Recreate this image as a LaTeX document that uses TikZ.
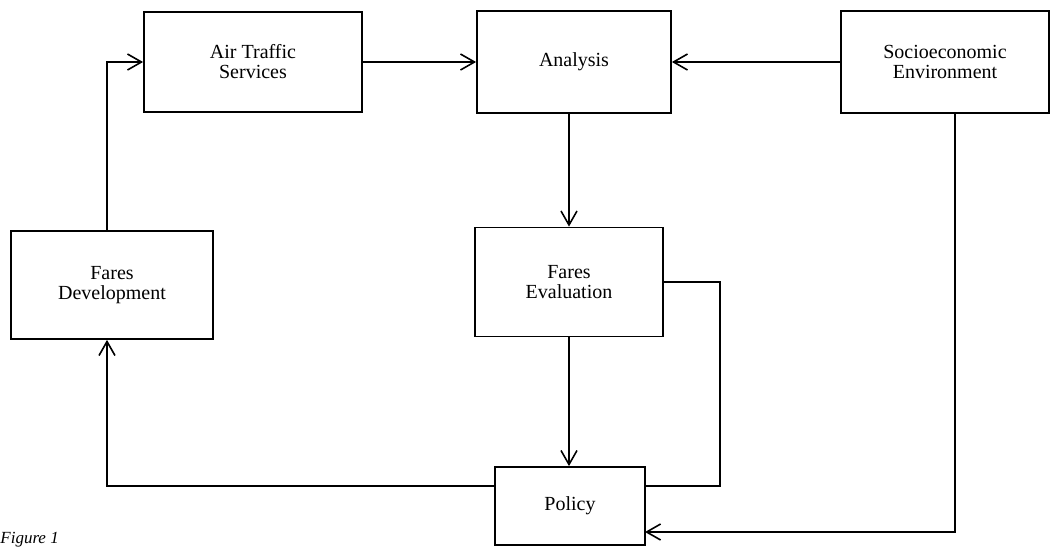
\documentclass[tikz,border=0pt]{standalone}
\usepackage{fontspec}
\setmainfont{Liberation Serif}
\usepackage{tikz}
\usetikzlibrary{arrows.meta}
\usetikzlibrary{positioning}
\usetikzlibrary{calc}

\begin{document}
\begin{tikzpicture}[x=0.5pt,y=-0.5pt,
    box/.style={draw,line width=0.9pt,align=center,inner sep=2pt,
                font=\fontsize{10}{10}\selectfont},
    arr/.style={-{Straight Barb[length=7pt,width=8pt,line width=0.8pt]},line width=0.9pt}]
    \useasboundingbox (0,0) rectangle (1057,547);

    % upper row
    \node[box,minimum width=109pt,minimum height=50pt] (ats)      at (253,62) {Air Traffic\\Services};
    \node[box,minimum width=97pt,minimum height=51pt]  (analysis) at (574,62) {Analysis};
    \node[box,minimum width=104pt,minimum height=51pt] (socio)    at (945,62) {Socioeconomic\\Environment};

    % middle row
    \node[box,minimum width=101pt,minimum height=54pt]  (fdev)  at (112,285) {Fares\\Development};
    \node[box,minimum width=94pt,minimum height=54.5pt] (feval) at (569,282) {Fares\\Evaluation};

    % bottom
    \node[box,minimum width=75pt,minimum height=39pt] (policy) at (570,506) {Policy};
    \node[anchor=west,inner sep=0pt,font=\fontsize{8.5}{8.5}\selectfont\itshape] (fig) at (0,540) {Figure 1};

    % entry points on the policy box
    \coordinate (pe1) at (645,486);
    \coordinate (pe2) at (645,532);
    \coordinate (pw1) at (495,486);
    \coordinate (evturn) at (720,486);

    % connectors
    \draw[arr] (ats.east) -- (analysis.west);
    \draw[arr] (socio.west) -- (analysis.east);
    \draw[arr] (analysis.south -| feval.north) -- (feval.north);
    \draw[arr] (feval.south) -- (feval.south |- policy.north);
    \draw[arr] ([xshift=-2.5pt]fdev.north) |- (ats.west);
    \draw[line width=0.9pt] (feval.east) -| (evturn) -- (pe1);
    \draw[arr] ([xshift=5pt]socio.south) |- (pe2);
    \draw[arr] (pw1) -| ([xshift=-2.5pt]fdev.south);
\end{tikzpicture}
\end{document}
